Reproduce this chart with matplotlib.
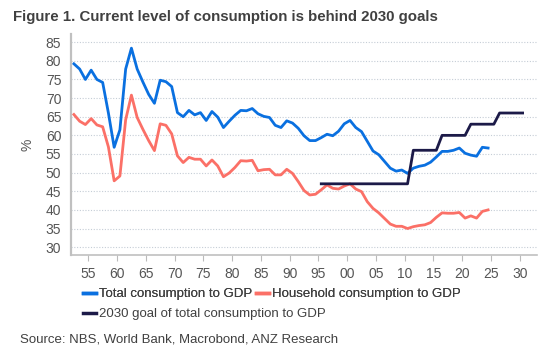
import matplotlib.pyplot as plt
from matplotlib.lines import Line2D

plt.rcParams['font.family'] = ['Liberation Sans', 'DejaVu Sans']

# Data (annual, % of GDP)
years = list(range(1952, 2025))
total = [79.2, 77.8, 75.0, 77.5, 75.0, 74.2, 66.0, 56.8, 61.5, 77.8,
         83.4, 77.8, 74.3, 71.0, 68.6, 74.8, 74.4, 73.1, 66.1, 65.0,
         66.7, 65.5, 66.1, 64.0, 66.4, 64.9, 62.1, 63.8, 65.4, 66.7,
         66.6, 67.2, 65.8, 65.1, 64.8, 62.7, 62.1, 63.9, 63.3, 61.9,
         59.9, 58.6, 58.6, 59.4, 60.3, 59.9, 61.1, 63.1, 64.0, 62.1,
         61.0, 58.4, 55.8, 54.8, 53.0, 51.2, 50.4, 50.7, 49.8, 51.2,
         51.7, 52.0, 52.8, 54.2, 55.7, 55.7, 56.0, 56.6, 55.2, 54.7,
         54.4, 56.8, 56.6]
household = [65.6, 63.8, 62.9, 64.5, 62.8, 62.3, 56.9, 47.8, 49.1, 64.2,
             70.8, 64.8, 61.6, 58.6, 55.9, 63.1, 62.7, 60.4, 54.5, 52.7,
             54.1, 53.6, 53.6, 51.8, 53.4, 51.8, 48.9, 49.9, 51.4, 53.2,
             53.1, 53.3, 50.5, 50.8, 50.9, 49.4, 49.4, 50.9, 49.8, 47.6,
             45.2, 44.0, 44.2, 45.4, 46.7, 45.8, 45.6, 46.4, 47.0, 45.6,
             44.9, 42.2, 40.4, 39.2, 37.7, 36.2, 35.6, 35.6, 35.0, 35.5,
             35.8, 36.0, 36.6, 38.0, 39.2, 39.1, 39.1, 39.3, 37.8, 38.4,
             37.8, 39.6, 40.0]
goal_years = list(range(1995, 2031))
goal = [47] * 16 + [56] * 5 + [60] * 5 + [63] * 5 + [66] * 5

tick_years = list(range(1955, 2031, 5))
tick_labels = ['%02d' % (y % 100) for y in tick_years]

blue = '#0a70e0'
red = '#fb7067'
navy = '#1c1a48'

fig = plt.figure(figsize=(5.45, 3.52), dpi=100)
ax = fig.add_axes([0.1303, 0.2756, 0.855, 0.6278])

# points sit mid-year
ax.plot([y + 0.5 for y in years], total, color=blue, lw=2.0)
ax.plot([y + 0.5 for y in years], household, color=red, lw=2.0)
ax.plot([y + 0.5 for y in goal_years], goal, color=navy, lw=2.0)

ax.set_xlim(1952, 2033)
ax.set_ylim(27.9, 87.2)
ax.set_xticks(tick_years)
ax.set_xticklabels(tick_labels)
ax.set_yticks(range(30, 90, 5))
ax.tick_params(axis='both', labelsize=10, labelcolor='#555555', color='#bbbbbb')
ax.tick_params(axis='y', length=0, pad=7)
ax.tick_params(axis='x', length=4, pad=5)
ax.grid(axis='y', linestyle=(0, (1, 1.5)), color='#c5cdd6', lw=0.8)
ax.set_axisbelow(True)
for s in ['top', 'right']:
    ax.spines[s].set_visible(False)
ax.spines['left'].set_color('#c0c0c0')
ax.spines['left'].set_linewidth(1.6)
ax.spines['bottom'].set_color('#c0c0c0')
ax.spines['bottom'].set_linewidth(1.2)
ax.set_ylabel('%', fontsize=10, color='#555555', labelpad=8)

fig.text(13 / 545, 1 - 17 / 352, 'Figure 1. Current level of consumption is behind 2030 goals',
         fontsize=10.8, fontweight='bold', color='#404040', va='center', ha='left')

leg_kw = dict(loc='center left', frameon=False, fontsize=9.5, handlelength=1.0,
              handletextpad=0.2, columnspacing=0.3, borderpad=0, borderaxespad=0,
              labelcolor='#404040')
leg1 = fig.legend([Line2D([], [], color=blue, lw=2.5), Line2D([], [], color=red, lw=2.5)],
                  ['Total consumption to GDP', 'Household consumption to GDP'],
                  bbox_to_anchor=(83 / 545, 1 - 294 / 352), ncol=2, **leg_kw)
fig.add_artist(leg1)
fig.legend([Line2D([], [], color=navy, lw=2.5)], ['2030 goal of total consumption to GDP'],
           bbox_to_anchor=(83 / 545, 1 - 314 / 352), **leg_kw)

fig.text(20 / 545, 1 - 339 / 352, 'Source: NBS, World Bank, Macrobond, ANZ Research',
         fontsize=9.5, color='#404040', va='center', ha='left')

fig.savefig('out.png', dpi=100)
